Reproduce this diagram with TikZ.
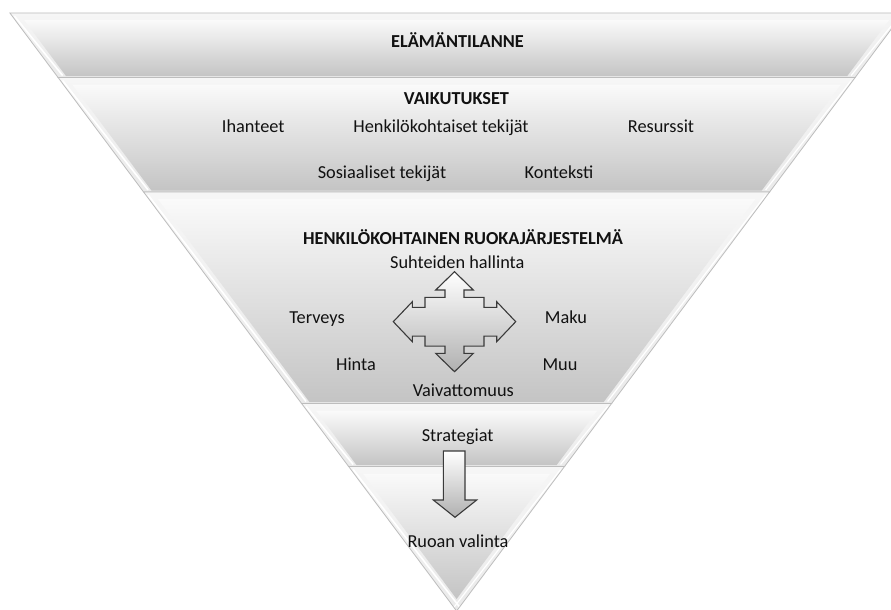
\documentclass[tikz,border=0pt]{standalone}
\usepackage{fontspec}
\setmainfont{Carlito}
\definecolor{rimcol}{HTML}{F6F6F6}
\definecolor{rimbot}{HTML}{EAEAEA}
\definecolor{rimline}{HTML}{BDBDBD}
\definecolor{facetop}{HTML}{FAFAFA}
\definecolor{facebot}{HTML}{C4C4C4}
\definecolor{botline}{HTML}{A8A8A8}
\definecolor{arrline}{HTML}{3A3A3A}
\definecolor{txt}{HTML}{111111}
\newcommand\drawband[2]{%
  \pgfmathsetmacro\hA{0.747*(611-#1)}%
  \pgfmathsetmacro\hB{0.747*(611-#2)}%
  \pgfmathsetmacro\ia{#1+7}%
  \pgfmathsetmacro\ib{min(#2-1.5,611-9/0.747)}%
  \pgfmathsetmacro\hIa{0.747*(611-\ia)-9}%
  \pgfmathsetmacro\hIb{max(0.747*(611-\ib)-9,0)}%
  \shade[top color=rimcol, bottom color=rimbot]
    ({456.6-\hA},#1) -- ({456.6+\hA},#1) -- ({456.6+\hB},#2) -- ({456.6-\hB},#2) -- cycle;
  \shade[top color=facetop, bottom color=facebot]
    ({456.6-\hIa},\ia) -- ({456.6+\hIa},\ia) -- ({456.6+\hIb},\ib) -- ({456.6-\hIb},\ib) -- cycle;
  \draw[white, line width=1.6]
    ({456.6-\hA+4.5},{#1+3}) -- ({456.6-\hB+4.5},{#2-2});
  \draw[white, line width=1.2]
    ({456.6+\hA-4},{#1+3}) -- ({456.6+\hB-4},{#2-2});
  \draw[rimline, line width=0.8]
    ({456.6-\hA},#1) -- ({456.6+\hA},#1) -- ({456.6+\hB},#2) -- ({456.6-\hB},#2) -- cycle;
  \draw[botline, line width=0.9] ({456.6-\hB},#2) -- ({456.6+\hB},#2);
}
\tikzset{
  lbl/.style={anchor=base, inner sep=0pt, text=txt, font=\fontsize{18.3}{22}\selectfont},
  hdr/.style={lbl, font=\fontsize{18.3}{22}\selectfont\bfseries},
  arrowshape/.style={draw=arrline, line width=1.1, line join=miter, top color=white, bottom color=facebot!90!black}
}
\begin{document}
\begin{tikzpicture}[x=1pt, y=-1pt]
\useasboundingbox (0,0) rectangle (891,610);
\clip (0,0) rectangle (891,610);
\fill[white] (0,0) rectangle (891,610);

\drawband{13}{77.5}
\drawband{77.5}{192}
\drawband{192}{403.5}
\drawband{403.5}{466.5}
\drawband{466.5}{611}

% quad arrow
\path[arrowshape]
  (454.5,271.7) -- (473.3,290) -- (464,290) -- (464,297.3) -- (484,297.3) -- (484,307.3)
  -- (496.7,307.3) -- (496.7,301.7) -- (515.7,321.7) -- (496.7,341.7) -- (496.7,336.1)
  -- (484,336.1) -- (484,346.1) -- (464,346.1) -- (464,353.4) -- (473.3,353.4)
  -- (454.5,371.7) -- (435.7,353.4) -- (445,353.4) -- (445,346.1) -- (425,346.1)
  -- (425,336.1) -- (412.3,336.1) -- (412.3,341.7) -- (393.3,321.7) -- (412.3,301.7)
  -- (412.3,307.3) -- (425,307.3) -- (425,297.3) -- (445,297.3) -- (445,290)
  -- (435.7,290) -- cycle;

% down arrow
\path[arrowshape]
  (443.3,451) -- (465,451) -- (465,500) -- (476.7,500) -- (455,517.3)
  -- (433.3,500) -- (443.3,500) -- cycle;

% texts
\node[hdr] (elam) at (457.5,48) {ELÄMÄNTILANNE};
\node[hdr] (vaik) at (456.5,104) {VAIKUTUKSET};
\node[lbl] (ihan) at (253.3,132) {Ihanteet};
\node[lbl] (henk) at (441,132) {Henkilökohtaiset tekijät};
\node[lbl] (resu) at (661,132) {Resurssit};
\node[lbl] (sosi) at (382,178) {Sosiaaliset tekijät};
\node[lbl] (kont) at (559,178) {Konteksti};
\node[hdr] (ruok) at (463,244) {HENKILÖKOHTAINEN RUOKAJÄRJESTELMÄ};
\node[lbl] (suht) at (457.3,268) {Suhteiden hallinta};
\node[lbl] (terv) at (317,323.5) {Terveys};
\node[lbl] (maku) at (566,323.5) {Maku};
\node[lbl] (hint) at (356,370) {Hinta};
\node[lbl] (muu) at (560,370) {Muu};
\node[lbl] (vaiv) at (463.3,396.5) {Vaivattomuus};
\node[lbl] (stra) at (457.7,441.5) {Strategiat};
\node[lbl] (ruoa) at (458,547) {Ruoan valinta};
\end{tikzpicture}
\end{document}
